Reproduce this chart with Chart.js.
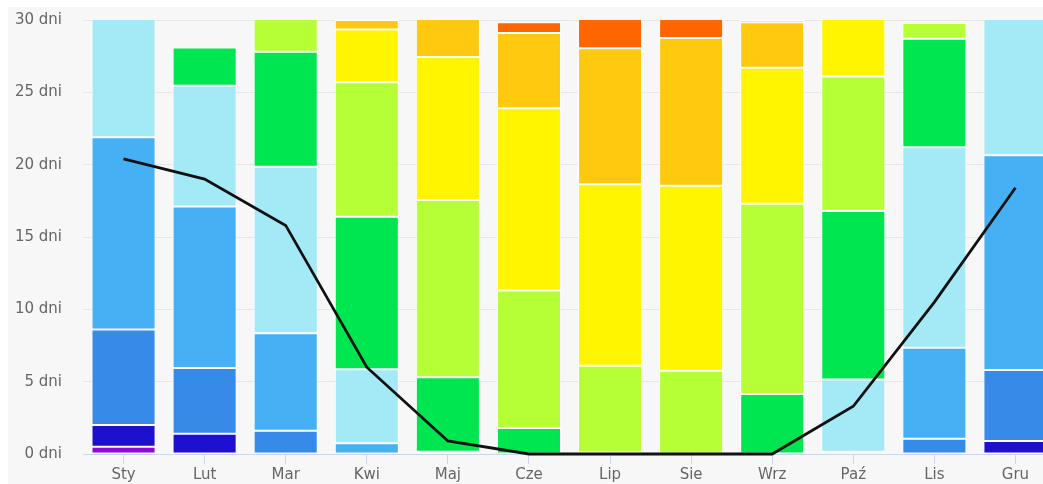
<!DOCTYPE html>
<html>
<head>
<meta charset="utf-8">
<script src="https://cdn.jsdelivr.net/npm/chart.js@4"></script>
<style>
  html, body { margin: 0; padding: 0; background: #fff; overflow: hidden; }
  #wrap { position: absolute; left: 8px; top: 7px; width: 1060px; height: 477px; background: #f7f7f7; }
</style>
</head>
<body>
<div id="wrap"><canvas id="chart" width="1060" height="477"></canvas></div>
<script>
// Months and day counts per temperature band (bottom → top)
const months = ['Sty', 'Lut', 'Mar', 'Kwi', 'Maj', 'Cze', 'Lip', 'Sie', 'Wrz', 'Paź', 'Lis', 'Gru'];

const bandPurple   = [0.5, 0, 0, 0, 0, 0, 0, 0, 0, 0, 0, 0];
const bandNavy     = [1.5, 1.4, 0, 0, 0, 0, 0, 0, 0, 0, 0, 0.9];
const bandBlue     = [6.6, 4.55, 1.6, 0, 0, 0, 0, 0, 0, 0, 1.05, 4.9];
const bandSky      = [13.3, 11.15, 6.75, 0.75, 0, 0, 0, 0, 0, 0.15, 6.3, 14.85];
const bandPale     = [9.1, 8.35, 11.5, 5.1, 0.15, 0, 0, 0, 0, 5.0, 13.85, 10.35];
const bandGreen    = [0, 2.65, 7.95, 10.55, 5.15, 1.8, 0.1, 0, 4.15, 11.65, 7.5, 0];
const bandLime     = [0, 0, 3.2, 9.3, 12.25, 9.5, 6.0, 5.75, 13.15, 9.3, 1.1, 0];
const bandYellow   = [0, 0, 0, 3.65, 9.9, 12.6, 12.55, 12.8, 9.4, 4.9, 0, 0];
const bandAmber    = [0, 0, 0, 0.65, 3.55, 5.2, 9.4, 10.2, 3.15, 0, 0, 0];
const bandOrange   = [0, 0, 0, 0, 0, 0.75, 2.95, 2.25, 0.15, 0, 0, 0];

const frostDays = [20.4, 19.0, 15.8, 6.0, 0.9, 0, 0, 0, 0, 3.3, 10.5, 18.4];

const bands = [
  { data: bandPurple, color: '#8b0ad9' },
  { data: bandNavy,   color: '#1e10d0' },
  { data: bandBlue,   color: '#368ae8' },
  { data: bandSky,    color: '#46b0f5' },
  { data: bandPale,   color: '#a3e9f6' },
  { data: bandGreen,  color: '#00e650' },
  { data: bandLime,   color: '#b6ff36' },
  { data: bandYellow, color: '#fff500' },
  { data: bandAmber,  color: '#ffc90f' },
  { data: bandOrange, color: '#ff6600' },
];

const datasets = bands.map(b => ({
  type: 'bar',
  data: b.data,
  backgroundColor: b.color,
  borderColor: '#ffffff',
  borderWidth: 1,
  borderSkipped: false,
  barPercentage: 0.79,
  categoryPercentage: 1,
  stack: 'bands',
  order: 1
}));

datasets.push({
  type: 'line',
  data: frostDays,
  borderColor: '#111111',
  borderWidth: 2.8,
  pointRadius: 0,
  tension: 0,
  stack: 'line',
  clip: 6,
  order: 0
});

const font = { family: 'DejaVu Sans', size: 15 };

new Chart(document.getElementById('chart'), {
  data: { labels: months, datasets },
  options: {
    responsive: false,
    animation: false,
    layout: { padding: { top: 13, right: 12, left: 0, bottom: 0 } },
    plugins: { legend: { display: false }, tooltip: { enabled: false } },
    scales: {
      x: {
        stacked: true,
        grid: { display: true, drawOnChartArea: false, offset: false, color: '#ccd6eb', tickLength: 10 },
        border: { color: '#ccd6eb', width: 1 },
        ticks: { color: '#666666', font, padding: 2, maxRotation: 0 },
        afterFit: s => { s.height = 30; }
      },
      y: {
        stacked: true,
        min: 0,
        max: 30,
        grid: { color: '#e6e6e6', drawTicks: true, tickLength: 21, tickColor: 'rgba(0,0,0,0)' },
        border: { display: false },
        ticks: { stepSize: 5, color: '#666666', font, padding: 0, callback: v => v + ' dni' },
        afterFit: s => { s.width = 75; }
      }
    }
  }
});
</script>
</body>
</html>
